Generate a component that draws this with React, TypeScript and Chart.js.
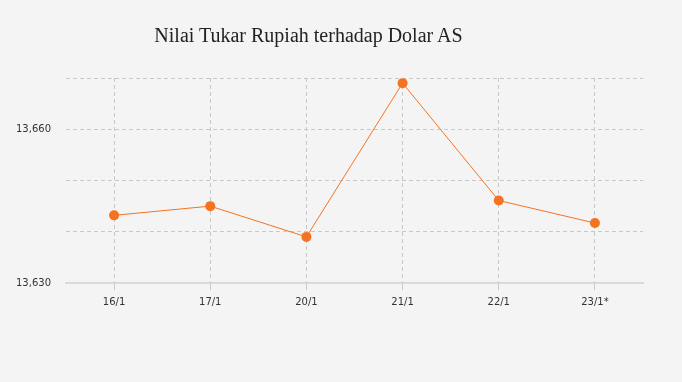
import React, { useEffect, useRef } from "react";
import { Chart, registerables } from "chart.js";

Chart.register(...registerables);

const titleText = "Nilai Tukar Rupiah terhadap Dolar AS";
const categories = ["16/1", "17/1", "20/1", "21/1", "22/1", "23/1*"];
const rates = [13643.2, 13645.0, 13639.0, 13669.0, 13646.1, 13641.7];
const labeledTicks = [13630, 13660];
const yMin = 13630;
const yMax = 13670;
const yStep = 10;

const ORANGE = "#f47321";

export default function App() {
  const ref = useRef<HTMLCanvasElement | null>(null);

  useEffect(() => {
    document.body.style.margin = "0";
    document.body.style.background = "#f4f4f4";
    const canvas = ref.current;
    if (!canvas) return;
    const chart = new Chart(canvas, {
      type: "line",
      data: {
        labels: categories,
        datasets: [
          {
            data: rates,
            borderColor: ORANGE,
            backgroundColor: ORANGE,
            borderWidth: 1,
            pointRadius: 5,
            pointHoverRadius: 5,
            pointBackgroundColor: ORANGE,
            pointBorderColor: ORANGE,
            pointBorderWidth: 0,
            tension: 0,
            fill: false,
          },
        ],
      },
      options: {
        animation: false,
        responsive: false,
        maintainAspectRatio: false,
        layout: { padding: { top: 78, right: 39, left: 0, bottom: 0 } },
        plugins: {
          legend: { display: false },
          title: { display: false },
          tooltip: { enabled: false },
        },
        scales: {
          x: {
            offset: true,
            grid: {
              offset: false,
              color: "#c8c8c8",
              lineWidth: 1,
              drawTicks: true,
              tickLength: 7,
              tickColor: "#c8c8c8",
            },
            border: { display: true, color: "#d9d9d9", width: 2, dash: [4, 3] },
            ticks: {
              color: "#333",
              font: { family: "DejaVu Sans", size: 10 },
              padding: 6,
              maxRotation: 0,
            },
            afterFit: (scale: any) => {
              scale.height = 382 - 283;
            },
          },
          y: {
            min: yMin,
            max: yMax,
            grid: {
              color: "#c8c8c8",
              lineWidth: 1,
              drawTicks: false,
            },
            border: { display: false, dash: [4, 3] },
            ticks: {
              stepSize: yStep,
              padding: 15,
              color: "#333",
              font: { family: "DejaVu Sans", size: 10 },
              callback: (v: any) =>
                labeledTicks.includes(Number(v)) ? Number(v).toLocaleString("en-US") : "",
            },
            afterFit: (scale: any) => {
              scale.width = 66;
            },
          },
        },
      },
    });
    return () => chart.destroy();
  }, []);

  return (
    <div style={{ position: "relative", width: 682, height: 382, background: "#f4f4f4" }}>
      <canvas ref={ref} width={682} height={382} style={{ position: "absolute", left: 0, top: 0 }} />
      <div
        style={{
          position: "absolute",
          left: 0,
          top: 24,
          width: 617,
          textAlign: "center",
          fontFamily: "'Liberation Serif', serif",
          fontSize: 20,
          lineHeight: "22px",
          color: "#222",
        }}
      >
        {titleText}
      </div>
    </div>
  );
}
